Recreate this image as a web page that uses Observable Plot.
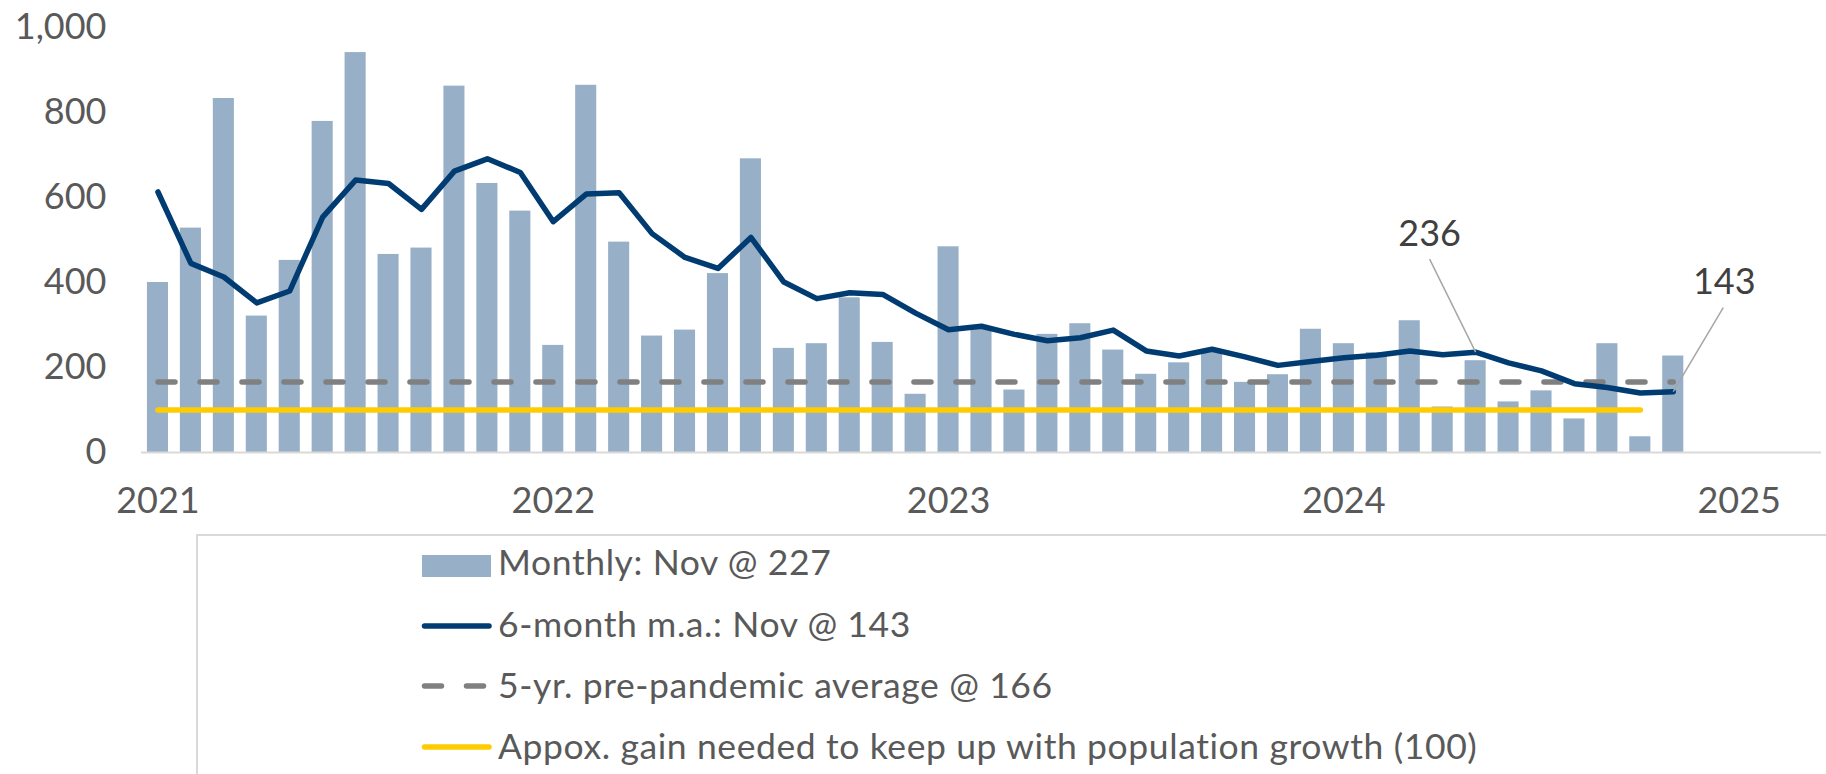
<!DOCTYPE html>
<html>
<head>
<meta charset="utf-8">
<script src="https://cdn.jsdelivr.net/npm/d3@7"></script>
<script src="https://cdn.jsdelivr.net/npm/@observablehq/plot@0.6"></script>
<style>
  html, body { margin: 0; padding: 0; background: #fff; overflow: hidden; }
  #wrap { position: relative; width: 1826px; height: 774px; overflow: hidden; font-family: Lato, sans-serif; }
  #chart { position: absolute; left: 0; top: 0; }
  #legend { position: absolute; left: 196px; top: 534px; width: 1700px; height: 320px;
            border: 2px solid #d9d9d9; box-sizing: border-box; }
  .sw { position: absolute; left: 223px; }
  .lt { position: absolute; left: 300px; font-size: 35.5px; line-height: 35.5px; letter-spacing: 0.6px;
        color: #595959; white-space: nowrap; }
</style>
</head>
<body>
<div id="wrap">
  <div id="chart"></div>
  <div id="legend"></div>
</div>
<script>
// ---- data ----
const startYear = 2021;
const monthly = [400, 528, 833, 321, 452, 779, 941, 466, 481, 862, 633, 568,
                 252, 864, 495, 274, 288, 421, 691, 245, 256, 364, 259, 137,
                 484, 290, 147, 278, 303, 241, 184, 211, 238, 165, 183, 290,
                 256, 235, 310, 107, 216, 119, 145, 79, 256, 37, 227];
const movingAvg = [613, 445, 413, 352, 380, 554, 641, 633, 572, 662, 691, 659,
                   543, 608, 611, 515, 459, 433, 506, 401, 362, 376, 372, 328,
                   289, 297, 278, 263, 270, 288, 239, 227, 243, 225, 205, 214,
                   223, 229, 239, 230, 236, 211, 192, 162, 153, 140, 143];
const prePandemicAvg = 166;
const populationNeed = 100;
const populationNeedMonths = 46;     // yellow reference line covers Jan 2021 - Oct 2024
const yearLabels = ["2021", "2022", "2023", "2024", "2025"];
const yTicks = [0, 200, 400, 600, 800, 1000];
const annotIndex = [40, 46];          // May 2024, Nov 2024
const annotValue = [236, 143];
const legendLabels = [
  "Monthly: Nov @ 227",
  "6-month m.a.: Nov @ 143",
  "5-yr. pre-pandemic average @ 166",
  "Appox. gain needed to keep up with population growth (100)"
];

// ---- derived tables ----
const rows = monthly.map((v, i) => ({i, monthly: v, ma: movingAvg[i]}));
const avgRows = rows.map(d => ({i: d.i, v: prePandemicAvg}));
const popRows = rows.slice(0, populationNeedMonths).map(d => ({i: d.i, v: populationNeed}));
const annots = annotIndex.map((i, k) => ({i, v: annotValue[k], label: String(annotValue[k])}));

// ---- layout / style ----
const W = 1826, H = 530;
const M = {left: 141, right: 5, top: 27, bottom: 78};
const xDomain = [-0.5, 50.5];
const yDomain = [0, 1000];
const barHalf = 0.32;
const colors = {bar: "#97b0c8", ma: "#003c71", avg: "#808080", pop: "#ffcc00", text: "#595959", lead: "#a6a6a6"};
// label offsets (px) relative to annotated point
const labelOff = [{dx: -46, dy: -118, lx: -46, ly: -93}, {dx: 51, dy: -109, lx: 50, ly: -84}];

const xs = d3.scaleLinear(xDomain, [M.left, W - M.right]);
const ys = d3.scaleLinear(yDomain, [H - M.bottom, M.top]);
const leaders = annots.map((d, k) => ({
  x1: d.i, y1: d.v,
  x2: xs.invert(xs(d.i) + labelOff[k].lx),
  y2: ys.invert(ys(d.v) + labelOff[k].ly)
}));

const chart = Plot.plot({
  width: W, height: H,
  marginLeft: M.left, marginRight: M.right, marginTop: M.top, marginBottom: M.bottom,
  style: {fontFamily: "Lato, sans-serif", fontSize: "36px", color: colors.text, background: "transparent"},
  x: {domain: xDomain, ticks: [0, 12, 24, 36, 48], tickFormat: d => yearLabels[Math.round(d / 12)],
      tickSize: 0, tickPadding: 35, label: null},
  y: {domain: yDomain, ticks: yTicks, tickFormat: d3.format(","), tickSize: 0, tickPadding: 35, label: null},
  marks: [
    Plot.rectY(rows, {x1: d => d.i - barHalf, x2: d => d.i + barHalf, y: "monthly", fill: colors.bar}),
    Plot.ruleY([0], {stroke: "#d9d9d9", strokeWidth: 2}),
    Plot.lineY(popRows, {x: "i", y: "v", stroke: colors.pop, strokeWidth: 5.5, strokeLinecap: "round"}),
    Plot.lineY(avgRows, {x: "i", y: "v", stroke: colors.avg, strokeWidth: 5.5, strokeLinecap: "round", strokeDasharray: "17,25"}),
    Plot.lineY(rows, {x: "i", y: "ma", stroke: colors.ma, strokeWidth: 5.5, strokeLinejoin: "round", strokeLinecap: "round"}),
    Plot.link(leaders, {x1: "x1", y1: "y1", x2: "x2", y2: "y2", stroke: colors.lead, strokeWidth: 1.5}),
    Plot.text([annots[0]], {x: "i", y: "v", text: "label", dx: labelOff[0].dx, dy: labelOff[0].dy, fontSize: 36, fill: "#404040"}),
    Plot.text([annots[1]], {x: "i", y: "v", text: "label", dx: labelOff[1].dx, dy: labelOff[1].dy, fontSize: 36, fill: "#404040"})
  ]
});
document.getElementById("chart").appendChild(chart);

// ---- legend ----
const legend = document.getElementById("legend");
const rowCenters = [30, 90, 150, 211];
const rowBaselines = [39, 101, 162, 223];
const ns = "http://www.w3.org/2000/svg";
const fs = 35.5;
legendLabels.forEach((lab, k) => {
  const svg = document.createElementNS(ns, "svg");
  svg.setAttribute("class", "sw");
  svg.setAttribute("width", 72);
  svg.setAttribute("height", 24);
  svg.style.top = (rowCenters[k] - 12) + "px";
  if (k === 0) {
    const r = document.createElementNS(ns, "rect");
    r.setAttribute("x", 1); r.setAttribute("y", 1); r.setAttribute("width", 69); r.setAttribute("height", 22);
    r.setAttribute("fill", colors.bar);
    svg.appendChild(r);
  } else {
    const l = document.createElementNS(ns, "line");
    l.setAttribute("x1", 3.5); l.setAttribute("x2", 68); l.setAttribute("y1", 12); l.setAttribute("y2", 12);
    l.setAttribute("stroke", [null, colors.ma, colors.avg, colors.pop][k]);
    l.setAttribute("stroke-width", 5.5);
    l.setAttribute("stroke-linecap", "round");
    if (k === 2) l.setAttribute("stroke-dasharray", "17,25");
    svg.appendChild(l);
  }
  legend.appendChild(svg);
  const t = document.createElement("div");
  t.className = "lt";
  t.textContent = lab;
  t.style.top = (rowBaselines[k] - 0.887 * fs) + "px";
  legend.appendChild(t);
});
</script>
</body>
</html>
